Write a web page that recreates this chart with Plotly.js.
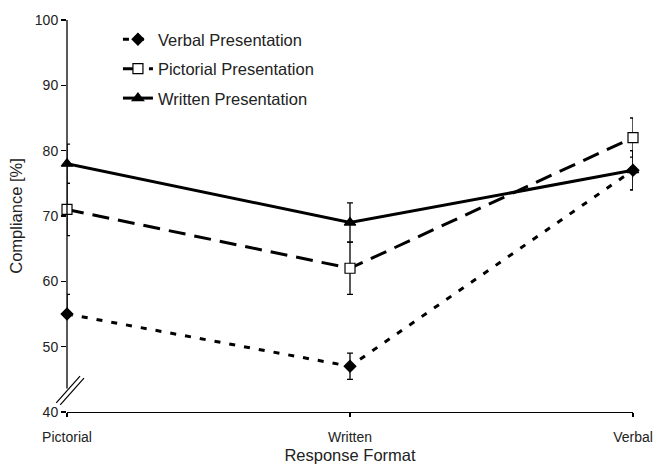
<!DOCTYPE html>
<html>
<head>
<meta charset="utf-8">
<script src="https://cdn.plot.ly/plotly-3.0.1.min.js"></script>
<style>html,body{margin:0;padding:0;background:#fff;}#chart{width:657px;height:464px;}</style>
</head>
<body>
<div id="chart"></div>
<script>
// Data
const categories = ["Pictorial", "Written", "Verbal"];
const seriesNames = ["Verbal Presentation", "Pictorial Presentation", "Written Presentation"];
const verbalValues = [55, 47, 77];
const verbalErrPlus = [3, 2, 3];
const verbalErrMinus = [0, 2, 3];
const pictorialValues = [71, 62, 82];
const pictorialErr = [4, 4, 3];
const writtenValues = [78, 69, 77];
const writtenErr = [3, 3, 3];
const yTicks = [40, 50, 60, 70, 80, 90, 100];

const FONT = "Liberation Sans, Arial, sans-serif";

function trace(name, y, errPlus, errMinus, dash, symbol, fill, size, group) {
  return {
    type: "scatter", mode: "lines+markers", name: name, x: categories, y: y,
    legendgroup: group, cliponaxis: false,
    line: {color: "#000", width: 3, dash: dash},
    marker: {symbol: symbol, size: size, color: fill, line: {color: "#000", width: 1.2}},
    error_y: {type: "data", symmetric: false, array: errPlus, arrayminus: errMinus,
              color: "#000", thickness: 1.3, width: 3}
  };
}

const data = [
  trace(seriesNames[0], verbalValues, verbalErrPlus, verbalErrMinus, "6px,9px", "diamond", "#000", 9, "a"),
  trace(seriesNames[1], pictorialValues, pictorialErr, pictorialErr, "17px,9px", "square", "#fff", 10, "b"),
  trace(seriesNames[2], writtenValues, writtenErr, writtenErr, "solid", "triangle-up", "#000", 10, "c")
];

const layout = {
  width: 657, height: 464,
  margin: {l: 67, r: 24, t: 20, b: 52},
  paper_bgcolor: "#fff", plot_bgcolor: "#fff",
  font: {family: FONT, size: 14, color: "#222"},
  showlegend: true,
  legend: {x: 0.09, y: 0.995, xanchor: "left", yanchor: "top", bgcolor: "rgba(0,0,0,0)",
           font: {family: FONT, size: 16.5, color: "#222"}, traceorder: "grouped", tracegroupgap: 5},
  xaxis: {
    type: "category", range: [0, 2], showgrid: false, zeroline: false,
    showline: true, linecolor: "#000", linewidth: 1.3,
    ticks: "outside", ticklen: 4, tickcolor: "#000", tickwidth: 1.3,
    ticklabelstandoff: 8,
    title: {text: "Response Format", font: {family: FONT, size: 16.5, color: "#222"}, standoff: 7}
  },
  yaxis: {
    range: [40, 100], tickvals: yTicks, showgrid: false, zeroline: false, showline: false,
    ticks: "outside", ticklen: 5, tickcolor: "#000", tickwidth: 1.3,
    title: {text: "Compliance [%]", font: {family: FONT, size: 16.5, color: "#222"}, standoff: 8}
  },
  shapes: [
    {type: "line", xref: "paper", yref: "y", x0: 0, x1: 0, y0: 43.6, y1: 100, line: {color: "#000", width: 1.3}},
    {type: "line", xref: "paper", yref: "y", x0: -0.019, x1: 0.023, y0: 41.4, y1: 45.5, line: {color: "#000", width: 1.2}},
    {type: "line", xref: "paper", yref: "y", x0: -0.012, x1: 0.030, y0: 41.1, y1: 45.2, line: {color: "#000", width: 1.2}}
  ]
};

Plotly.newPlot("chart", data, layout, {displayModeBar: false, staticPlot: true});
</script>
</body>
</html>
